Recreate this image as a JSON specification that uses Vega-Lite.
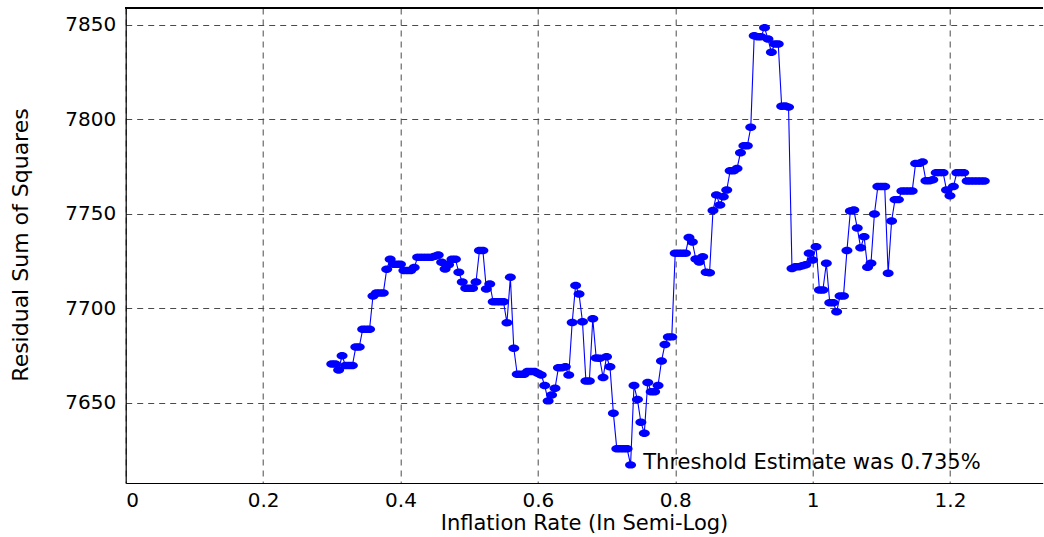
{
  "$schema": "https://vega.github.io/schema/vega-lite/v6.json",
  "width": 917,
  "height": 475,
  "autosize": "none",
  "padding": {"left": 125.7, "top": 8, "right": 1.3, "bottom": 54},
  "background": "white",
  "config": {
    "view": {"stroke": null},
    "font": "DejaVu Sans",
    "axis": {
      "labelFont": "DejaVu Sans",
      "labelFontSize": 20,
      "labelColor": "#000000",
      "titleFont": "DejaVu Sans",
      "titleFontSize": 20,
      "titleFontWeight": "normal",
      "titleColor": "#000000",
      "domainColor": "#000000",
      "domainWidth": 1.2,
      "ticks": false,
      "grid": true,
      "gridColor": "#4a4a4a",
      "gridDash": [6, 5],
      "gridOpacity": 1,
      "gridWidth": 1
    }
  },
  "datasets": {
    "rss": [
      {"x": 0.300, "rss": 7670.4}, {"x": 0.305, "rss": 7670.4}, {"x": 0.310, "rss": 7667.3}, {"x": 0.315, "rss": 7674.8},
      {"x": 0.320, "rss": 7669.6}, {"x": 0.325, "rss": 7669.6}, {"x": 0.330, "rss": 7669.6}, {"x": 0.335, "rss": 7679.4},
      {"x": 0.340, "rss": 7679.4}, {"x": 0.345, "rss": 7688.8}, {"x": 0.350, "rss": 7688.8}, {"x": 0.355, "rss": 7688.8},
      {"x": 0.360, "rss": 7706.5}, {"x": 0.365, "rss": 7708.0}, {"x": 0.370, "rss": 7708.0}, {"x": 0.375, "rss": 7708.0},
      {"x": 0.380, "rss": 7720.6}, {"x": 0.385, "rss": 7725.9}, {"x": 0.390, "rss": 7723.3}, {"x": 0.395, "rss": 7723.3},
      {"x": 0.400, "rss": 7723.3}, {"x": 0.405, "rss": 7719.9}, {"x": 0.410, "rss": 7719.9}, {"x": 0.415, "rss": 7719.9},
      {"x": 0.420, "rss": 7721.5}, {"x": 0.425, "rss": 7727.0}, {"x": 0.430, "rss": 7727.0}, {"x": 0.435, "rss": 7727.0},
      {"x": 0.440, "rss": 7727.0}, {"x": 0.445, "rss": 7727.0}, {"x": 0.450, "rss": 7727.5}, {"x": 0.455, "rss": 7728.2},
      {"x": 0.460, "rss": 7724.3}, {"x": 0.465, "rss": 7720.8}, {"x": 0.470, "rss": 7723.0}, {"x": 0.475, "rss": 7725.9},
      {"x": 0.480, "rss": 7725.9}, {"x": 0.485, "rss": 7719.0}, {"x": 0.490, "rss": 7713.9}, {"x": 0.495, "rss": 7710.5},
      {"x": 0.500, "rss": 7710.5}, {"x": 0.505, "rss": 7710.5}, {"x": 0.510, "rss": 7713.9}, {"x": 0.515, "rss": 7730.5},
      {"x": 0.520, "rss": 7730.5}, {"x": 0.525, "rss": 7710.2}, {"x": 0.530, "rss": 7712.8}, {"x": 0.535, "rss": 7703.4},
      {"x": 0.540, "rss": 7703.4}, {"x": 0.545, "rss": 7703.4}, {"x": 0.550, "rss": 7703.4}, {"x": 0.555, "rss": 7692.3},
      {"x": 0.560, "rss": 7716.4}, {"x": 0.565, "rss": 7678.8}, {"x": 0.570, "rss": 7665.0}, {"x": 0.575, "rss": 7665.0},
      {"x": 0.580, "rss": 7665.0}, {"x": 0.585, "rss": 7666.4}, {"x": 0.590, "rss": 7666.4}, {"x": 0.595, "rss": 7666.4},
      {"x": 0.600, "rss": 7665.5}, {"x": 0.605, "rss": 7664.6}, {"x": 0.610, "rss": 7659.0}, {"x": 0.615, "rss": 7650.9},
      {"x": 0.620, "rss": 7654.0}, {"x": 0.625, "rss": 7657.6}, {"x": 0.630, "rss": 7668.5}, {"x": 0.635, "rss": 7668.5},
      {"x": 0.640, "rss": 7669.0}, {"x": 0.645, "rss": 7664.6}, {"x": 0.650, "rss": 7692.4}, {"x": 0.655, "rss": 7712.0},
      {"x": 0.660, "rss": 7707.5}, {"x": 0.665, "rss": 7692.8}, {"x": 0.670, "rss": 7661.4}, {"x": 0.675, "rss": 7661.4},
      {"x": 0.680, "rss": 7694.4}, {"x": 0.685, "rss": 7673.6}, {"x": 0.690, "rss": 7673.5}, {"x": 0.695, "rss": 7663.3},
      {"x": 0.700, "rss": 7674.3}, {"x": 0.705, "rss": 7669.0}, {"x": 0.710, "rss": 7644.3}, {"x": 0.715, "rss": 7625.5},
      {"x": 0.720, "rss": 7625.5}, {"x": 0.725, "rss": 7625.5}, {"x": 0.730, "rss": 7625.5}, {"x": 0.735, "rss": 7617.0},
      {"x": 0.740, "rss": 7659.0}, {"x": 0.745, "rss": 7651.6}, {"x": 0.750, "rss": 7639.6}, {"x": 0.755, "rss": 7633.8},
      {"x": 0.760, "rss": 7660.6}, {"x": 0.765, "rss": 7655.7}, {"x": 0.770, "rss": 7655.7}, {"x": 0.775, "rss": 7659.0},
      {"x": 0.780, "rss": 7672.0}, {"x": 0.785, "rss": 7680.8}, {"x": 0.790, "rss": 7684.8}, {"x": 0.795, "rss": 7684.8},
      {"x": 0.800, "rss": 7729.1}, {"x": 0.805, "rss": 7729.1}, {"x": 0.810, "rss": 7729.1}, {"x": 0.815, "rss": 7729.1},
      {"x": 0.820, "rss": 7737.5}, {"x": 0.825, "rss": 7735.0}, {"x": 0.830, "rss": 7726.0}, {"x": 0.835, "rss": 7724.5},
      {"x": 0.840, "rss": 7727.3}, {"x": 0.845, "rss": 7719.0}, {"x": 0.850, "rss": 7718.8}, {"x": 0.855, "rss": 7751.7},
      {"x": 0.860, "rss": 7760.0}, {"x": 0.865, "rss": 7754.7}, {"x": 0.870, "rss": 7759.0}, {"x": 0.875, "rss": 7762.6},
      {"x": 0.880, "rss": 7772.8}, {"x": 0.885, "rss": 7772.8}, {"x": 0.890, "rss": 7774.0}, {"x": 0.895, "rss": 7782.3},
      {"x": 0.900, "rss": 7786.0}, {"x": 0.905, "rss": 7786.0}, {"x": 0.910, "rss": 7795.8}, {"x": 0.915, "rss": 7844.3},
      {"x": 0.920, "rss": 7843.8}, {"x": 0.925, "rss": 7843.8}, {"x": 0.930, "rss": 7848.6}, {"x": 0.935, "rss": 7842.6},
      {"x": 0.940, "rss": 7835.6}, {"x": 0.945, "rss": 7839.9}, {"x": 0.950, "rss": 7839.9}, {"x": 0.955, "rss": 7807.0},
      {"x": 0.960, "rss": 7807.1}, {"x": 0.965, "rss": 7806.5}, {"x": 0.970, "rss": 7721.0}, {"x": 0.975, "rss": 7722.0},
      {"x": 0.980, "rss": 7722.0}, {"x": 0.985, "rss": 7722.5}, {"x": 0.990, "rss": 7723.0}, {"x": 0.995, "rss": 7729.1},
      {"x": 1.000, "rss": 7725.5}, {"x": 1.005, "rss": 7732.6}, {"x": 1.010, "rss": 7709.6}, {"x": 1.015, "rss": 7709.6},
      {"x": 1.020, "rss": 7723.8}, {"x": 1.025, "rss": 7702.9}, {"x": 1.030, "rss": 7702.9}, {"x": 1.035, "rss": 7698.1},
      {"x": 1.040, "rss": 7706.5}, {"x": 1.045, "rss": 7706.5}, {"x": 1.050, "rss": 7730.5}, {"x": 1.055, "rss": 7751.5},
      {"x": 1.060, "rss": 7752.0}, {"x": 1.065, "rss": 7742.5}, {"x": 1.070, "rss": 7732.0}, {"x": 1.075, "rss": 7737.9},
      {"x": 1.080, "rss": 7721.7}, {"x": 1.085, "rss": 7723.8}, {"x": 1.090, "rss": 7749.9}, {"x": 1.095, "rss": 7764.4},
      {"x": 1.100, "rss": 7764.4}, {"x": 1.105, "rss": 7764.4}, {"x": 1.110, "rss": 7718.5}, {"x": 1.115, "rss": 7746.2},
      {"x": 1.120, "rss": 7757.5}, {"x": 1.125, "rss": 7757.5}, {"x": 1.130, "rss": 7762.1}, {"x": 1.135, "rss": 7762.1},
      {"x": 1.140, "rss": 7762.1}, {"x": 1.145, "rss": 7762.1}, {"x": 1.150, "rss": 7776.7}, {"x": 1.155, "rss": 7776.7},
      {"x": 1.160, "rss": 7777.5}, {"x": 1.165, "rss": 7767.5}, {"x": 1.170, "rss": 7767.5}, {"x": 1.175, "rss": 7768.0},
      {"x": 1.180, "rss": 7771.8}, {"x": 1.185, "rss": 7771.8}, {"x": 1.190, "rss": 7771.8}, {"x": 1.195, "rss": 7762.6},
      {"x": 1.200, "rss": 7759.6}, {"x": 1.205, "rss": 7764.4}, {"x": 1.210, "rss": 7771.8}, {"x": 1.215, "rss": 7771.8},
      {"x": 1.220, "rss": 7771.8}, {"x": 1.225, "rss": 7767.4}, {"x": 1.230, "rss": 7767.4}, {"x": 1.235, "rss": 7767.4},
      {"x": 1.240, "rss": 7767.4}, {"x": 1.245, "rss": 7767.4}, {"x": 1.250, "rss": 7767.4}
    ],
    "note": [
      {"x": 0.7535, "rss": 7614.7, "label": "Threshold Estimate was 0.735%"}
    ]
  },
  "encoding": {
    "x": {
      "field": "x",
      "type": "quantitative",
      "scale": {"domain": [0, 1.335], "nice": false, "zero": false},
      "axis": {
        "values": [0, 0.2, 0.4, 0.6, 0.8, 1, 1.2],
        "format": "~g",
        "labelPadding": 7,
        "title": "Inflation Rate (In Semi-Log)",
        "titleFontSize": 21,
        "titleX": 458.3,
        "titleY": 46,
        "titleAlign": "center",
        "titleBaseline": "alphabetic",
        "titleAnchor": null
      }
    },
    "y": {
      "field": "rss",
      "type": "quantitative",
      "scale": {"domain": [7607.4, 7859], "nice": false, "zero": false},
      "axis": {
        "values": [7650, 7700, 7750, 7800, 7850],
        "format": "d",
        "labelPadding": 10,
        "title": "Residual Sum of Squares",
        "titleFontSize": 22,
        "titleX": -115,
        "titleY": 236.5,
        "titleAngle": -90,
        "titleAlign": "center",
        "titleBaseline": "top",
        "titleAnchor": null
      }
    }
  },
  "layer": [
    {
      "data": {"name": "rss"},
      "mark": {"type": "rule", "color": "#000000", "strokeWidth": 1.2},
      "encoding": {"x": null, "y": {"datum": 7859}}
    },
    {
      "data": {"name": "rss"},
      "mark": {"type": "line", "color": "#0000ff", "strokeWidth": 1.1}
    },
    {
      "data": {"name": "rss"},
      "mark": {
        "type": "point",
        "filled": true,
        "color": "#0000ff",
        "opacity": 1,
        "size": 121,
        "shape": "M-1,0A1,0.68,0,1,1,1,0A1,0.68,0,1,1,-1,0Z"
      }
    },
    {
      "data": {"name": "note"},
      "mark": {"type": "text", "align": "left", "baseline": "alphabetic", "fontSize": 21, "font": "DejaVu Sans", "color": "#000000"},
      "encoding": {
        "text": {"field": "label", "type": "nominal"}
      }
    }
  ]
}
